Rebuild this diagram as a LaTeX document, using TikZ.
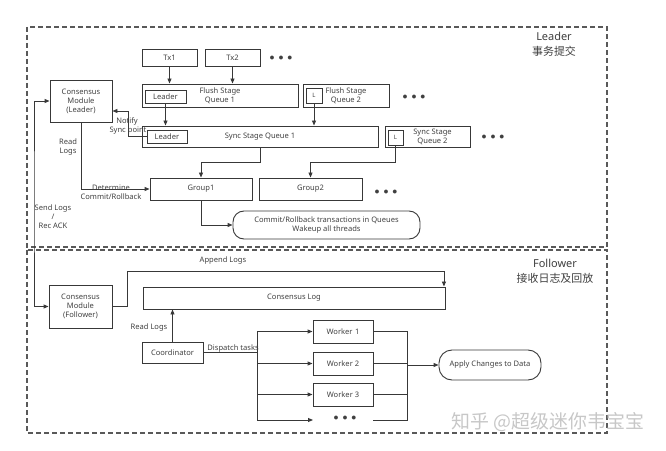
\documentclass[tikz,border=0pt]{standalone}
\usepackage{fontspec}
\setmainfont{Noto Sans}
\newfontfamily\cjk{Noto Sans CJK SC}
\usetikzlibrary{arrows.meta}

\begin{document}
\begin{tikzpicture}[x=1bp, y=-1bp, line width=.9bp, draw=black!78, text=black!75,
	every node/.style={font=\fontsize{7.6}{9}\selectfont, inner sep=0pt, align=center},
	box/.style={draw},
	round/.style={draw, rounded corners=11bp},
	frame/.style={draw=black!65, line width=1.1bp, dash pattern=on 5bp off 3bp},
	title/.style={font=\fontsize{11}{15}\selectfont},
	dotz/.style={font=\fontsize{10}{10}\selectfont},
	->/.style={-{Triangle[length=5bp, width=4bp]}}]
	\useasboundingbox (0,0) rectangle (666,451);

	\draw[frame] (27,27) rectangle (607,247);
	\draw[frame] (27,250) rectangle (607,433);
	\node[title] at (554,44) {Leader\\{\cjk 事务提交}};
	\node[title] at (555,271) {Follower\\{\cjk 接收日志及回放}};

	% leader side
	\node[box, minimum width=55bp, minimum height=17bp] (tx1) at (169.5,57.5) {Tx1};
	\node[box, minimum width=55bp, minimum height=17bp] (tx2) at (232.5,57.5) {Tx2};
	\node[dotz] (txd) at (281,58) {$\bullet\,\bullet\,\bullet$};
	\node[box, minimum width=62bp, minimum height=42bp] (cml) at (81,101) {Consensus\\Module\\(Leader)};
	\node[box, minimum width=156bp, minimum height=23bp] (fq1) at (220,95.5) {Flush Stage\\Queue 1};
	\node[box, minimum width=41bp, minimum height=13bp] (fq1l) at (165.5,96.5) {Leader};
	\node[box, minimum width=86bp, minimum height=23bp] (fq2) at (346,95.5) {Flush Stage\\Queue 2};
	\node[box, minimum width=16bp, minimum height=15bp, font=\fontsize{6}{7}\selectfont] (fq2l) at (314,95.5) {L};
	\node[dotz] (fqd) at (414,97) {$\bullet\,\bullet\,\bullet$};
	\node[box, minimum width=236bp, minimum height=21bp] (sq1) at (260,136.5) {Sync Stage Queue 1};
	\node[box, minimum width=40bp, minimum height=13bp] (sq1l) at (167,136.5) {Leader};
	\node[box, minimum width=85bp, minimum height=21bp] (sq2) at (427.5,136.5) {\hspace*{10bp}Sync Stage\\\hspace*{10bp}Queue 2};
	\node[box, minimum width=15bp, minimum height=15bp, font=\fontsize{6}{7}\selectfont] (sq2l) at (395.5,137.5) {L};
	\node[dotz] (sqd) at (493,137) {$\bullet\,\bullet\,\bullet$};
	\node[box, minimum width=102bp, minimum height=22bp] (g1) at (201,189) {Group1};
	\node[box, minimum width=103bp, minimum height=22bp] (g2) at (310.5,189) {Group2};
	\node[dotz] (gd) at (386,192) {$\bullet\,\bullet\,\bullet$};
	\node[round, minimum width=187bp, minimum height=28bp] (cr) at (326.5,225) {Commit/Rollback transactions in Queues\\Wakeup all threads};

	\draw[->] (tx1) -- (tx1 |- fq1.north);
	\draw[->] (tx2) -- (tx2 |- fq1.north);
	\draw[->] (fq1l) -- (fq1l |- sq1.north);
	\draw[->] (fq2l) -- (fq2l |- sq1.north);
	\coordinate (ns) at (128,111);
	\draw[->] (sq1l.west) -| (ns) -- (ns -| cml.east);
	\node at (127,122) {Notify};
	\node at (128,130.5) {Sync point};
	\draw[->] (sq1.south) -- ++(0,15) -| (g1.north);
	\draw[->] (sq2l.south) -- ++(0,17) -| (g2.north);
	\draw[->] (cml.south) |- (g1.west);
	\node at (68,147) {Read\\Logs};
	\node at (111,192) {Determine\\Commit/Rollback};
	\draw[->] (g1.south) |- (cr.west);

	% follower side
	\node[box, minimum width=63bp, minimum height=43bp] (cmf) at (80.5,306.5) {Consensus\\Module\\(Follower)};
	\coordinate (sl) at (34,200);
	\draw[{Triangle[length=5bp, width=4bp]}-{Triangle[length=5bp, width=4bp]}] (cml.west) -| (sl) |- (cmf.west);
	\node at (53,217) {Send Logs\\/\\Rec ACK};
	\node[box, minimum width=302bp, minimum height=22bp] (clog) at (294,298) {Consensus Log};
	\coordinate (al) at (127,271);
	\draw[->] (cmf.east) -| (al) -| ([xshift=-1.5bp]clog.north east);
	\node at (223,261) {Append Logs};
	\node[box, minimum width=61bp, minimum height=21bp] (co) at (172.5,352.5) {Coordinator};
	\draw[->] (co) -- (co |- clog.south);
	\node at (149,328) {Read Logs};
	\node[box, minimum width=60bp, minimum height=23bp] (w1) at (343,331.5) {Worker\,\,1};
	\node[box, minimum width=60bp, minimum height=23bp] (w2) at (343,363.5) {Worker 2};
	\node[box, minimum width=60bp, minimum height=23bp] (w3) at (343,394.5) {Worker 3};
	\node[dotz] (wd) at (345,418) {$\bullet\,\bullet\,\bullet$};
	\node[round, minimum width=102bp, minimum height=30bp, rounded corners=13bp] (ap) at (490,365) {Apply Changes to Data};
	\coordinate (dl) at (257,352.5);
	\coordinate (we) at (313,420);
	\coordinate (ws) at (373,420);
	\coordinate (rb) at (407,365);
	\draw[->] (co.east) -| (dl |- w1) -- (w1.west);
	\draw[->] (dl) |- (w2.west);
	\draw[->] (dl) |- (w3.west);
	\draw[->] (dl) |- (we);
	\node[anchor=south west, inner sep=1pt] at (206,354) {Dispatch tasks};
	\draw (w1.east) -| (rb |- ws) -- (ws);
	\draw (w2.east) -- (w2.east -| rb);
	\draw (w3.east) -- (w3.east -| rb);
	\draw[->] (rb) -- (ap.west);

	\node[font=\cjk\fontsize{19}{19}\selectfont, text=black!22] at (548,422) {知乎 @超级迷你韦宝宝};
\end{tikzpicture}
\end{document}
